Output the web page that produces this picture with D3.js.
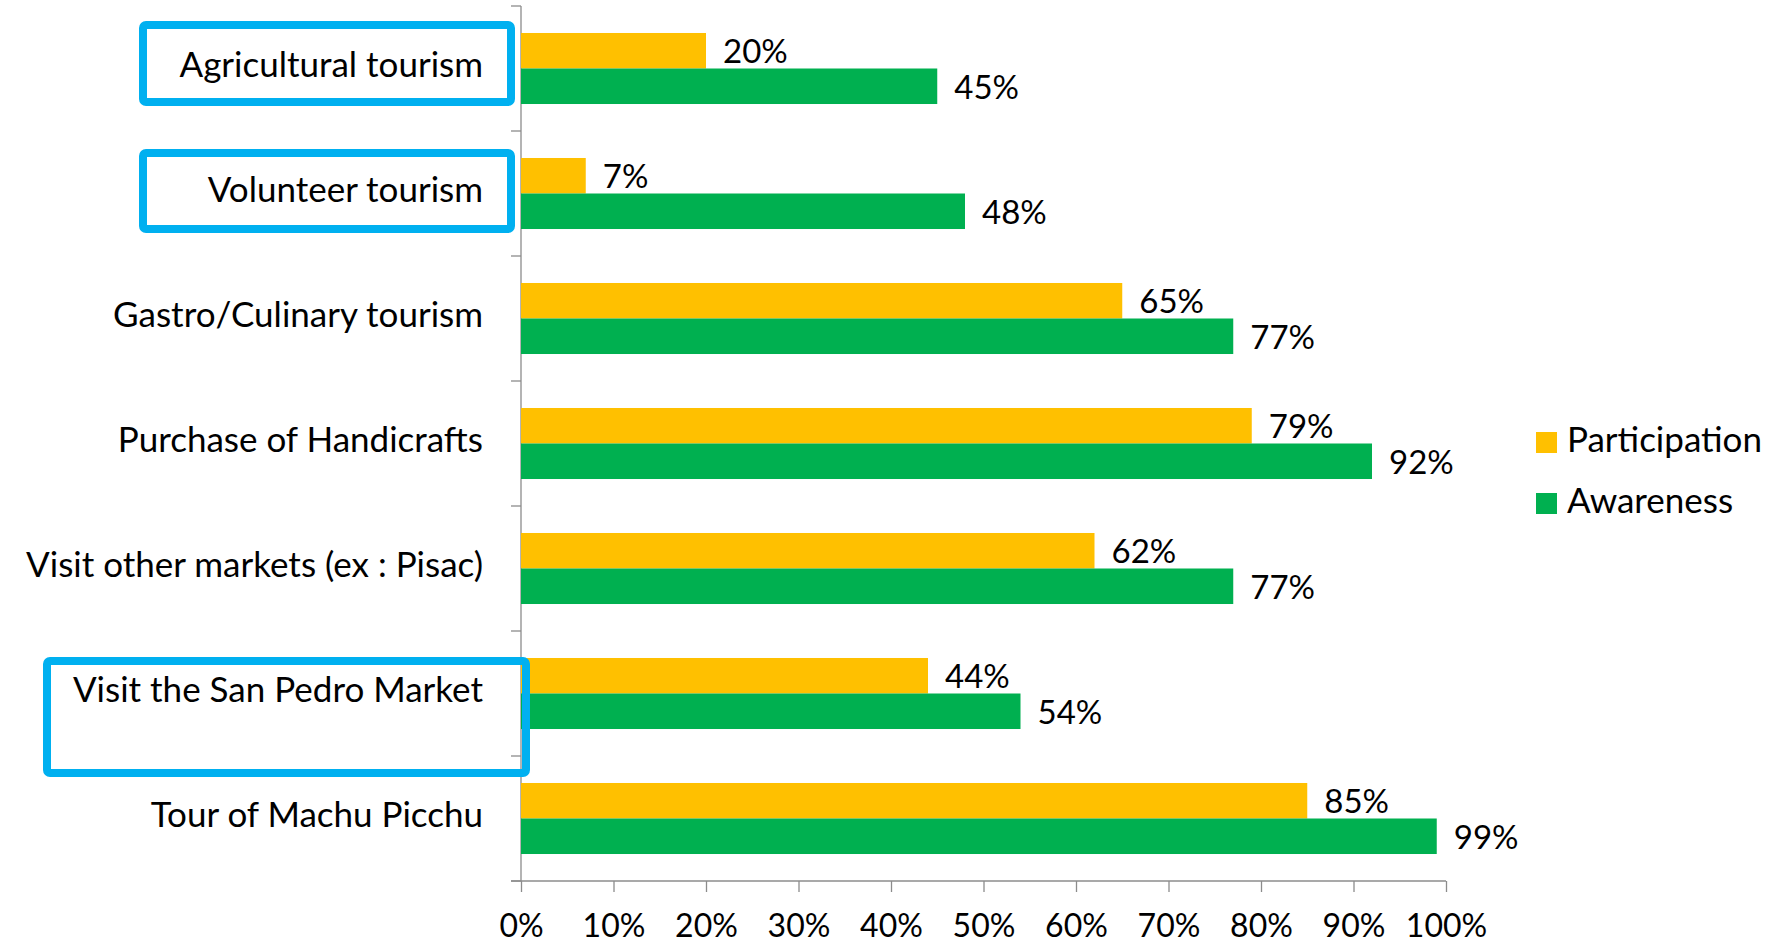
<!DOCTYPE html>
<html><head><meta charset="utf-8">
<script src="https://cdn.jsdelivr.net/npm/d3@7"></script>
<style>
html,body{margin:0;padding:0;background:#fff;}
svg text{font-family:Lato,"Open Sans",sans-serif;fill:#000;}
</style></head>
<body>
<svg id="chart" width="1773" height="948"></svg>
<script>
const categories = ["Agricultural tourism","Volunteer tourism","Gastro/Culinary tourism","Purchase of Handicrafts","Visit other markets (ex : Pisac)","Visit the San Pedro Market","Tour of Machu Picchu"];
const seriesNames = ["Participation","Awareness"];
const participation = [20,7,65,79,62,44,85];
const awareness = [45,48,77,92,77,54,99];
const xTicks = [0,10,20,30,40,50,60,70,80,90,100];
const highlighted = ["Agricultural tourism","Volunteer tourism","Visit the San Pedro Market"];

const colors = {Participation:"#FFC000", Awareness:"#00B050"};
const boxLayout = {
  "Agricultural tourism": {x0:143, x1:511, top:19, bottom:96},
  "Volunteer tourism": {x0:143, x1:511, top:22, bottom:98},
  "Visit the San Pedro Market": {x0:47, x1:526, top:30, bottom:142}
};

const svg = d3.select("#chart");
const x = d3.scaleLinear().domain([0,100]).range([521,1446]);
const y = d3.scaleBand().domain(categories).range([6,881]).paddingInner(0).paddingOuter(0);
const ySub = d3.scaleBand().domain(seriesNames).range([0,y.bandwidth()]).paddingInner(0).paddingOuter(0.76);

const data = categories.map((c,i)=>({cat:c, values:[{s:"Participation",v:participation[i]},{s:"Awareness",v:awareness[i]}]}));

const axisColor = "#8c8c8c";
// y axis
svg.append("line").attr("x1",x(0)).attr("x2",x(0)).attr("y1",y.range()[0]).attr("y2",y.range()[1]).attr("stroke",axisColor).attr("stroke-width",1.3);
const bounds = categories.map(c=>y(c)).concat([y.range()[1]]);
svg.selectAll(".ytick").data(bounds).join("line")
  .attr("x1",x(0)-10).attr("x2",x(0)).attr("y1",d=>d).attr("y2",d=>d)
  .attr("stroke",axisColor).attr("stroke-width",1.3);

// x axis
const xAxis = d3.axisBottom(x).tickValues(xTicks).tickSize(11).tickFormat(d=>d+"%");
const gx = svg.append("g").attr("transform",`translate(0,${y.range()[1]})`).call(xAxis);
gx.select(".domain").attr("stroke",axisColor).attr("stroke-width",1.3).attr("d",`M${x(0)-10},0H${x(100)}`);
gx.selectAll(".tick line").attr("stroke",axisColor).attr("stroke-width",1.3);
gx.selectAll(".tick text").attr("font-size",32).attr("dy",0).attr("y",56).attr("font-family","Lato").attr("fill","#000");

// bars
const groups = svg.selectAll(".grp").data(data).join("g").attr("transform",d=>`translate(0,${y(d.cat)})`);
groups.selectAll("rect").data(d=>d.values).join("rect")
  .attr("x",x(0)).attr("y",d=>ySub(d.s)).attr("height",ySub.bandwidth())
  .attr("width",d=>x(d.v)-x(0)).attr("fill",d=>colors[d.s]);
groups.selectAll("text.lbl").data(d=>d.values).join("text").attr("class","lbl")
  .attr("x",d=>x(d.v)+17).attr("y",d=>ySub(d.s)+ySub.bandwidth()/2+4)
  .attr("dominant-baseline","middle").attr("font-size",33).text(d=>d.v+"%");

// category labels
svg.selectAll(".cat").data(categories).join("text").attr("class","cat")
  .attr("x",483).attr("y",d=>y(d)+y.bandwidth()/2).attr("dominant-baseline","middle")
  .attr("text-anchor","end").attr("font-size",35).text(d=>d);

// highlight boxes
svg.selectAll(".hbox").data(highlighted).join("rect").attr("class","hbox")
  .attr("x",d=>boxLayout[d].x0).attr("width",d=>boxLayout[d].x1-boxLayout[d].x0)
  .attr("y",d=>y(d)+boxLayout[d].top).attr("height",d=>boxLayout[d].bottom-boxLayout[d].top)
  .attr("rx",3).attr("fill","none").attr("stroke","#00B0F0").attr("stroke-width",8);

// legend
const leg = svg.selectAll(".leg").data(seriesNames).join("g").attr("class","leg")
  .attr("transform",(d,i)=>`translate(1536,${432+i*61})`);
leg.append("rect").attr("width",21).attr("height",21).attr("fill",d=>colors[d]);
leg.append("text").attr("x",31).attr("y",11).attr("dominant-baseline","middle").attr("font-size",35).text(d=>d);
</script>
</body></html>
